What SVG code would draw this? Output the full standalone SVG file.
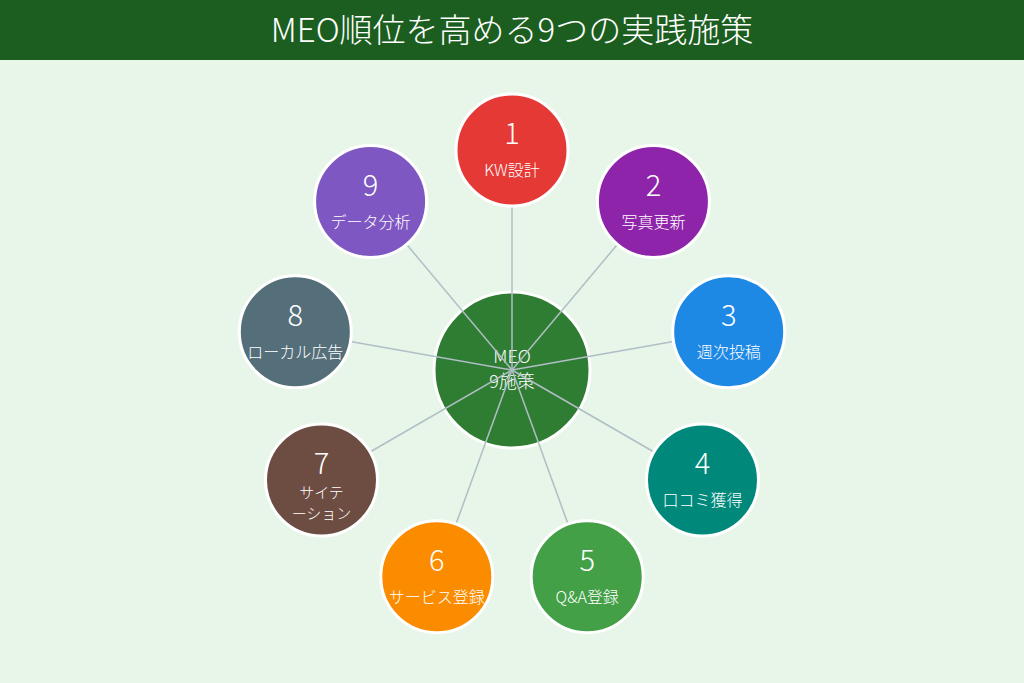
<svg xmlns="http://www.w3.org/2000/svg" width="1024" height="683" viewBox="0 0 1024 683">
<style>
.t{font-family:"Noto Sans CJK JP","Noto Sans",sans-serif;font-weight:300;fill:#ffffff;text-anchor:middle}
.num{font-size:29px}
.lbl{font-size:16px}
.lbl2{font-size:15px}
.node{stroke:#ffffff;stroke-width:3}
.edge{stroke:#b0bec5;stroke-width:1.5}
</style>
<rect x="0" y="0" width="1024" height="683" fill="#e8f5e9"/>
<g id="title">
<rect x="0" y="0" width="1024" height="60" fill="#1b5e20"/>
<text class="t" x="512" y="42" font-size="33">MEO順位を高める9つの実践施策</text>
</g>
<g id="center">
<circle class="node" cx="512" cy="370" r="78" fill="#2e7d32"/>
<text class="t" x="512" y="363" font-size="18" fill="#e8f5e9">MEO</text>
<text class="t" x="512" y="388" font-size="18" fill="#e8f5e9">9施策</text>
</g>
<g id="connectors">
<line class="edge" x1="512" y1="370" x2="512" y2="150"/>
<line class="edge" x1="512" y1="370" x2="653.4" y2="201.5"/>
<line class="edge" x1="512" y1="370" x2="728.7" y2="331.8"/>
<line class="edge" x1="512" y1="370" x2="702.5" y2="480"/>
<line class="edge" x1="512" y1="370" x2="587.2" y2="576.7"/>
<line class="edge" x1="512" y1="370" x2="436.8" y2="576.7"/>
<line class="edge" x1="512" y1="370" x2="321.5" y2="480"/>
<line class="edge" x1="512" y1="370" x2="295.3" y2="331.8"/>
<line class="edge" x1="512" y1="370" x2="370.6" y2="201.5"/>
</g>
<g id="n1">
<circle class="node" cx="512" cy="150" r="56" fill="#e53935"/>
<text class="t num" x="512" y="144">1</text>
<text class="t lbl" x="512" y="176">KW設計</text>
</g>
<g id="n2">
<circle class="node" cx="653.4" cy="201.5" r="56" fill="#8e24aa"/>
<text class="t num" x="653.4" y="195.5">2</text>
<text class="t lbl" x="653.4" y="227.5">写真更新</text>
</g>
<g id="n3">
<circle class="node" cx="728.7" cy="331.8" r="56" fill="#1e88e5"/>
<text class="t num" x="728.7" y="325.8">3</text>
<text class="t lbl" x="728.7" y="357.8">週次投稿</text>
</g>
<g id="n4">
<circle class="node" cx="702.5" cy="480" r="56" fill="#00897b"/>
<text class="t num" x="702.5" y="474">4</text>
<text class="t lbl" x="702.5" y="506">口コミ獲得</text>
</g>
<g id="n5">
<circle class="node" cx="587.2" cy="576.7" r="56" fill="#43a047"/>
<text class="t num" x="587.2" y="570.7">5</text>
<text class="t lbl" x="587.2" y="602.7">Q&amp;A登録</text>
</g>
<g id="n6">
<circle class="node" cx="436.8" cy="576.7" r="56" fill="#fb8c00"/>
<text class="t num" x="436.8" y="570.7">6</text>
<text class="t lbl" x="436.8" y="602.7">サービス登録</text>
</g>
<g id="n7">
<circle class="node" cx="321.5" cy="480" r="56" fill="#6d4c41"/>
<text class="t num" x="321.5" y="474">7</text>
<text class="t lbl2" x="321.5" y="498">サイテ</text>
<text class="t lbl2" x="321.5" y="519">ーション</text>
</g>
<g id="n8">
<circle class="node" cx="295.3" cy="331.8" r="56" fill="#546e7a"/>
<text class="t num" x="295.3" y="325.8">8</text>
<text class="t lbl" x="295.3" y="357.8">ローカル広告</text>
</g>
<g id="n9">
<circle class="node" cx="370.6" cy="201.5" r="56" fill="#7e57c2"/>
<text class="t num" x="370.6" y="195.5">9</text>
<text class="t lbl" x="370.6" y="227.5">データ分析</text>
</g>
</svg>
